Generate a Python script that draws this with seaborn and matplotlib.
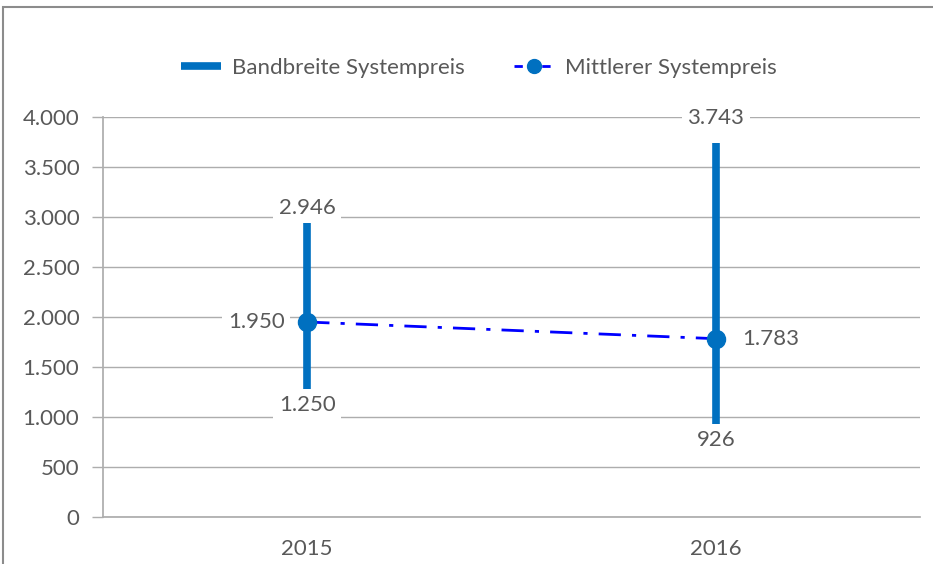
import matplotlib.pyplot as plt
import seaborn as sns
import pandas as pd
from matplotlib.lines import Line2D
from matplotlib.patches import Rectangle

years = ['2015', '2016']
preis_min = [1250, 926]
preis_max = [2946, 3743]
preis_mittel = [1950, 1783]

sns.set_theme(style='white')
plt.rcParams['font.family'] = ['Lato', 'DejaVu Sans']

fig = plt.figure(figsize=(9.33, 5.64), dpi=100)
ax = fig.add_axes([103/933, 1-517/564, 817/933, 400/564])

grau = '#595959'
blau = '#0070C0'
fs = 16

def fmt(v):
    return f'{v:,}'.replace(',', '.')

ax.set_ylim(0, 4000)
ax.set_xlim(-0.5, 1.5)
ax.set_yticks(range(0, 4001, 500))
ax.set_yticklabels([fmt(v) for v in range(0, 4001, 500)])
ax.yaxis.grid(True, color='#ADADAD', linewidth=1)
ax.set_axisbelow(True)

pos = list(range(len(years)))
ax.vlines(pos, preis_min, preis_max, color=blau, linewidth=5.5, zorder=3)

df = pd.DataFrame({'x': pos, 'y': preis_mittel})
sns.lineplot(data=df, x='x', y='y', ax=ax, color='#0000FF', linewidth=2,
             linestyle=(0, (8, 4, 1.5, 4)), zorder=4)
ax.plot(pos, preis_mittel, linestyle='none', marker='o', markersize=13,
        color=blau, zorder=5)

box = dict(facecolor='white', edgecolor='none', pad=4)
top_y = [preis_max[0] + 145, 3990]
bot_y = [preis_min[0] - 130, preis_min[1] - 155]
for i in pos:
    ax.text(i, top_y[i], fmt(preis_max[i]), ha='center', va='center',
            fontsize=fs, color=grau, bbox=box, zorder=6)
    ax.text(i, bot_y[i], fmt(preis_min[i]), ha='center', va='center',
            fontsize=fs, color=grau, bbox=box, zorder=6)
ax.text(pos[0] - 0.055, preis_mittel[0], fmt(preis_mittel[0]),
        ha='right', va='center', fontsize=fs, color=grau, bbox=box, zorder=6)
ax.text(pos[1] + 0.065, preis_mittel[1], fmt(preis_mittel[1]),
        ha='left', va='center', fontsize=fs, color=grau, bbox=box, zorder=6)

ax.set_xticks(pos)
ax.set_xticklabels(years)
ax.set_xlabel('')
ax.set_ylabel('')
ax.tick_params(axis='y', length=8, width=1, color='#ADADAD', labelsize=fs,
               labelcolor=grau, pad=9, left=True)
ax.tick_params(axis='x', length=0, labelsize=fs, labelcolor=grau, pad=16)
for s in ['top', 'right']:
    ax.spines[s].set_visible(False)
ax.spines['left'].set_color('#ADADAD')
ax.spines['bottom'].set_color('#ADADAD')

handles = [
    Line2D([], [], color=blau, linewidth=5.5, solid_capstyle='butt'),
    Line2D([], [], color='#0000FF', linewidth=2, linestyle=(0, (3, 2)),
           marker='o', markersize=10, markerfacecolor=blau, markeredgecolor=blau),
]
fig.legend(handles, ['Bandbreite Systempreis', 'Mittlerer Systempreis'],
           loc='center', bbox_to_anchor=(479/933, 1-68/564), ncol=2, frameon=False,
           fontsize=fs, labelcolor=grau, columnspacing=2.2, handlelength=1.8,
           handletextpad=0.5)

fig.patches.append(Rectangle((3/933, -0.1), 1.2, 1.1 - 7/564, transform=fig.transFigure,
                             fill=False, edgecolor='#8C8C8C', linewidth=1.5))

fig.savefig('out.png', dpi=100)
